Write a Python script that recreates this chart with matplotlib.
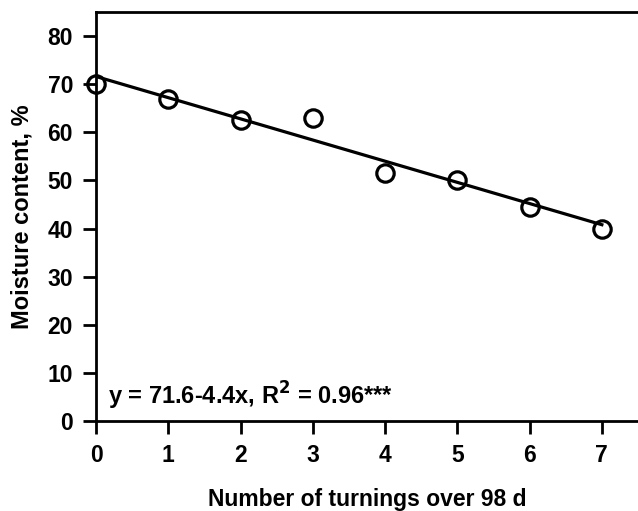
import numpy as np
import matplotlib
matplotlib.use("Agg")
import matplotlib.pyplot as plt

# Datos
vueltas = [0, 1, 2, 3, 4, 5, 6, 7]
humedad = [70.0, 67.0, 62.5, 63.0, 51.5, 50.0, 44.5, 40.0]
intercepto = 71.6
pendiente = -4.4

plt.rcParams['font.family'] = ['Liberation Sans', 'DejaVu Sans']
plt.rcParams['font.weight'] = 'bold'

fig = plt.figure(figsize=(6.38, 5.11), dpi=100)
ax = fig.add_axes([0.1505, 0.176, 0.8495, 0.8005])

# Recta de regresion
xr = np.array([vueltas[0], vueltas[-1]])
ax.plot(xr, intercepto + pendiente * xr, color='black', lw=2.3, zorder=2)

# Puntos observados
ax.plot(vueltas, humedad, 'o', ms=12.5, mfc='none', mec='black', mew=2.3,
        clip_on=False, zorder=3)

ax.set_xlim(0, 7.5)
ax.set_ylim(0, 85)
ax.set_xticks(range(0, 8))
ax.set_yticks(range(0, 81, 10))

ax.spines['right'].set_visible(False)
for lado in ['left', 'bottom', 'top']:
    ax.spines[lado].set_linewidth(2.0)

ax.tick_params(direction='out', length=9.5, width=2.0, labelsize=16.5, pad=7)
for lab in ax.get_xticklabels() + ax.get_yticklabels():
    lab.set_fontweight('bold')

ax.set_xlabel('Number of turnings over 98 d', fontsize=16.5, fontweight='bold', labelpad=15)
ax.set_ylabel('Moisture content, %', fontsize=17, fontweight='bold', labelpad=10)

ax.text(0.16, 5.2, r'y = 71.6-4.4x, R$^\mathbf{2}$ = 0.96***', fontsize=17,
        fontweight='bold', ha='left', va='center')

fig.savefig('out.png', dpi=100, facecolor='white')
